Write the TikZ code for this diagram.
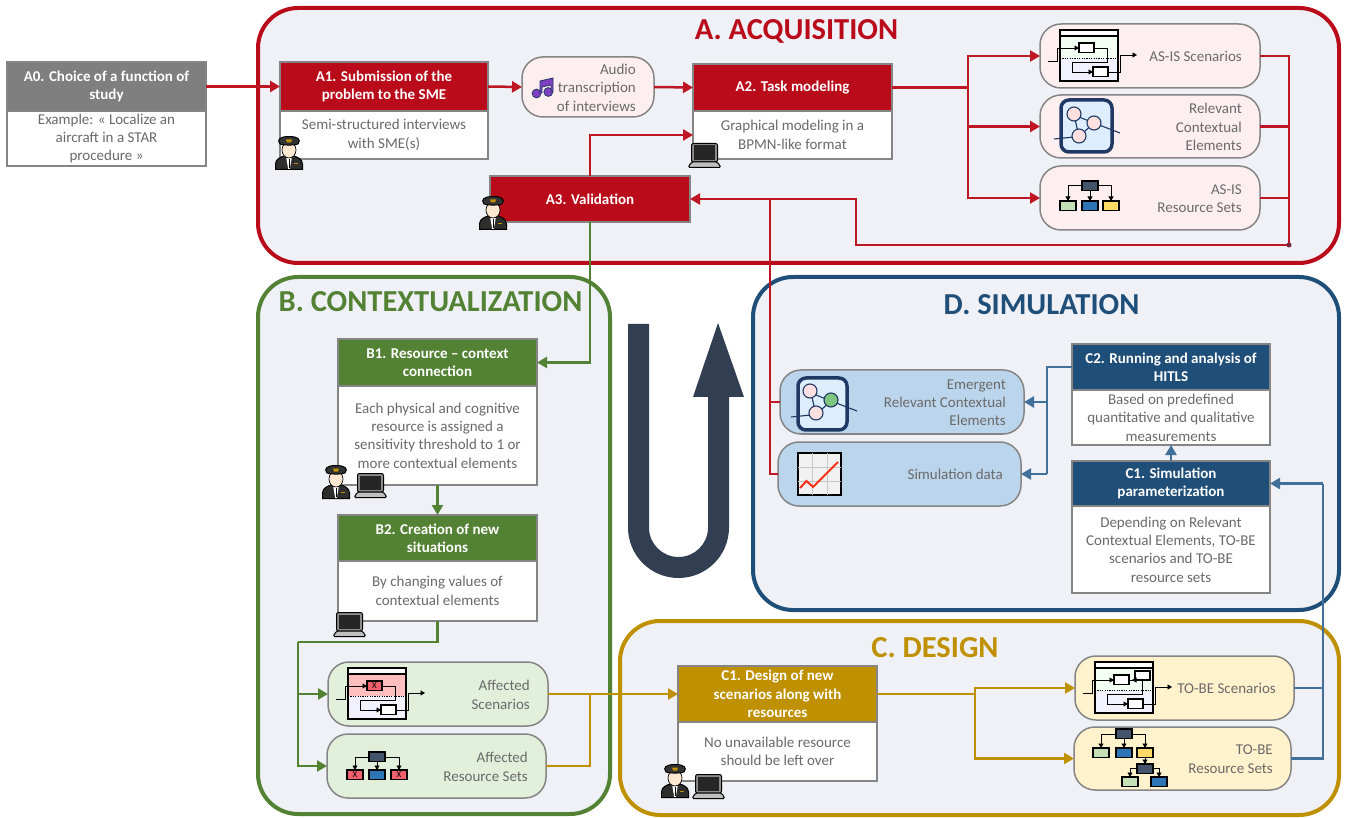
\documentclass[tikz,border=0pt]{standalone}
\usepackage{fontspec}
\setmainfont{Carlito}
\usetikzlibrary{arrows.meta}
\definecolor{cred}{HTML}{B90B1A}
\definecolor{cgreen}{HTML}{548235}
\definecolor{cblue}{HTML}{1F4E79}
\definecolor{cgold}{HTML}{BF9000}
\definecolor{cgrey}{HTML}{7F7F7F}
\definecolor{lnblue}{HTML}{41709A}
\definecolor{lnred}{HTML}{BE1622}
\definecolor{panelbg}{HTML}{EFF1F6}
\definecolor{boxedge}{HTML}{858585}
\definecolor{txt}{HTML}{6A6A6A}
\definecolor{pinkp}{HTML}{FDEFEF}
\definecolor{greenp}{HTML}{E2EFDA}
\definecolor{yellowp}{HTML}{FFF2CC}
\definecolor{bluep}{HTML}{BBD5EC}
\definecolor{slate}{HTML}{323F52}
\definecolor{navy}{HTML}{1F3864}
\definecolor{rnavy}{HTML}{44546A}
\definecolor{rgreen}{HTML}{C5E0B4}
\definecolor{rblue}{HTML}{2E75B6}
\definecolor{ryellow}{HTML}{FFD966}
\definecolor{rpink}{HTML}{F0616D}
\newcommand{\bodyf}{\fontsize{15}{18.4}\selectfont}
\newcommand{\headf}{\fontsize{15}{18.4}\selectfont\bfseries}
\newcommand{\titlef}{\fontsize{30.5}{32}\selectfont\bfseries}
\tikzset{
  panel/.style={draw=#1,line width=4pt,fill=panelbg,rounded corners=40pt,anchor=north west,inner sep=0pt,outer sep=0pt},
  hd/.style={draw=boxedge,line width=1.5pt,fill=#1,text=white,font=\headf,anchor=north west,inner sep=0pt,outer sep=0pt,align=center},
  bd/.style={draw=boxedge,line width=1.5pt,fill=white,text=txt,font=\bodyf,anchor=north west,inner sep=0pt,outer sep=0pt,align=center},
  pill/.style={draw=boxedge,line width=1.5pt,fill=#1,rounded corners=21pt,anchor=north west,inner sep=0pt,outer sep=0pt},
  pilltext/.style={text=txt,font=\bodyf,anchor=east,align=right,inner sep=0pt},
  ttl/.style={text=#1,font=\titlef,inner sep=0pt},
  conn/.style={draw=#1,line width=2.5pt},
  tipped/.style={-{Triangle[length=10pt,width=11pt]}},
  tinytip/.style={-{Triangle[length=4.5pt,width=5pt]},line width=.9pt,draw=black},
  iconbox/.style={draw=black,line width=1.3pt},
  thin/.style={line width=.9pt,draw=black},
}
% pilot: 28 x 34 from top-left
\newcommand{\pilot}[2]{\begin{scope}[shift={(#1,#2)}]
  \fill[draw=black,line width=1pt,fill=black!82] (0.5,33.5) -- (0.5,28) .. controls (0.5,23) and (6,21) .. (9,20) -- (19,20) .. controls (22,21) and (27.5,23) .. (27.5,28) -- (27.5,33.5) -- cycle;
  \fill[white] (11,20.5) -- (17,20.5) -- (14.8,33) -- (13.2,33) -- cycle;
  \draw[black,line width=1pt] (14,23) -- (14,32);
  \fill[cgold] (19,27) rectangle (23,28.2);
  \fill[draw=black,line width=.7pt,fill=orange!18!white] (14,14) ellipse (7pt and 8pt);
  \fill[draw=black,line width=1pt,fill=black!80] (5,8) .. controls (1.5,3.5) and (5,.5) .. (14,.5) .. controls (23,.5) and (26.5,3.5) .. (23,8) .. controls (19,9.5) and (9,9.5) .. (5,8) -- cycle;
  \fill[cgold] (11,3.5) -- (17,3.5) -- (16,6.5) -- (12,6.5) -- cycle;
\end{scope}}
% laptop: 33 x 25 from top-left
\newcommand{\laptop}[2]{\begin{scope}[shift={(#1,#2)}]
  \draw[line width=1pt,draw=black,fill=black!45,rounded corners=2pt] (3.5,.5) rectangle (29.5,19);
  \fill[black!85] (6,2.5) rectangle (27,17);
  \draw[line width=1pt,draw=black,fill=black!25,rounded corners=1.5pt] (3.5,19) -- (29.5,19) -- (33,24.5) -- (0,24.5) -- cycle;
\end{scope}}
% scenario pool icon
\newcommand{\scen}[6]{\begin{scope}[shift={(#1,#2)}]
  \fill[#3] (0,6) rectangle (58,28);
  \fill[#4] (0,28) rectangle (58,51);
  \draw[iconbox,fill=white] (0,0) rectangle (58,6);
  \draw[iconbox] (0,6) rectangle (58,51);
  \draw[thin] (-12,31) -- (-3,31) -- (-3,18) -- (19,18);
  \draw[tinytip] (13,18) -- (19,18);
  \draw[thin] (34,18) -- (47,18) -- (47,32) -- (12,32) -- (12,42) -- (33,42);
  \draw[tinytip] (27,42) -- (33,42);
  \draw[thin] (48,42) -- (60,42) -- (60,25) -- (68,25);
  \draw[tinytip] (66,25) -- (77,25);
  \draw[line width=1.3pt,dash pattern=on 1.2pt off 1.2pt] (0,28.5) -- (58,28.5);
  \draw[iconbox,fill=#5] (19,13) rectangle (34,22.5);
  \draw[iconbox,fill=white] (33,37) rectangle (48,46.5);
  #6
\end{scope}}
% context icon
\newcommand{\ctxicon}[3]{\begin{scope}[shift={(#1,#2)}]
  \draw[draw=navy,line width=3.5pt,fill=blue!50!cyan!13!white,rounded corners=8pt] (0,0) rectangle (#3,52);
  \draw[navy,line width=1.1pt] (-7,39) -- (18,36.5) (33,23) -- (59,33) (13,15) -- (33,23) (13,15) -- (18,36.5) (33,23) -- (18,36.5);
\end{scope}}
\newcommand{\ctxcirc}[3]{\draw[navy,line width=1.1pt,fill=#3] (#1,#2) circle (7pt);}
% resource boxes
\newcommand{\rbox}[3]{\draw[iconbox,fill=#3] ({#1-8},#2) rectangle ({#1+8},{#2+9.5});}
\newcommand{\rlink}[4]{\draw[thin] (#1,#2) -| (#3,{#4-4}); \draw[tinytip] (#3,{#4-5}) -- (#3,#4);}
\newcommand{\rdown}[3]{\draw[thin] (#1,#2) -- (#1,#3); \draw[tinytip] (#1,{#3-5}) -- (#1,#3);}
\begin{document}
\begin{tikzpicture}[x=1pt,y=-1pt]
\useasboundingbox (0,0) rectangle (1345,818);
% panels
\node[panel=cred,minimum width=1081pt,minimum height=255pt] (pa) at (258,8) {};
\node[panel=cgreen,minimum width=352pt,minimum height=537pt] (pb) at (258,277) {};
\node[panel=cblue,minimum width=586pt,minimum height=333pt] (pd) at (753,277) {};
\node[panel=cgold,minimum width=719pt,minimum height=194pt] (pc) at (620,621) {};
\node[ttl=cred] (ta) at (796.5,31.5) {A. ACQUISITION};
\node[ttl=cgreen] (tb) at (430.5,301.5) {B. CONTEXTUALIZATION};
\node[ttl=cblue] (td) at (1041.5,304.5) {D. SIMULATION};
\node[ttl=cgold] (tc) at (935,647.5) {C. DESIGN};
% U-turn arrow
\fill[slate] (628,324) -- (649,324) -- (649,527.5) arc[start angle=180,end angle=360,radius=29.5pt] -- (708,397) -- (693,397) -- (718,323) -- (744,397) -- (729,397) -- (729,527.5) arc[start angle=0,end angle=-180,radius=50.5pt] -- cycle;
% step boxes
\node[hd=cgrey,minimum width=199pt,minimum height=49pt] (a0h) at (7,62) {A0. Choice of a function of\\study};
\node[bd,minimum width=199pt,minimum height=55pt] (a0b) at (7,111) {Example: « Localize an\\aircraft in a STAR\\procedure »};
\node[hd=cred,minimum width=208pt,minimum height=49pt] (a1h) at (280,62) {A1. Submission of the\\problem to the SME};
\node[bd,minimum width=208pt,minimum height=48pt] (a1b) at (280,111) {Semi-structured interviews\\with SME(s)};
\node[hd=cred,minimum width=199pt,minimum height=47pt] (a2h) at (693,64) {A2. Task modeling};
\node[bd,minimum width=199pt,minimum height=48pt] (a2b) at (693,111) {Graphical modeling in a\\BPMN-like format};
\node[hd=cred,minimum width=200pt,minimum height=46pt] (a3h) at (490,176) {A3. Validation};
\node[hd=cgreen,minimum width=199pt,minimum height=47pt] (b1h) at (338,339) {B1. Resource – context\\connection};
\node[bd,minimum width=199pt,minimum height=99pt] (b1b) at (338,386) {Each physical and cognitive\\resource is assigned a\\sensitivity threshold to 1 or\\more contextual elements};
\node[hd=cgreen,minimum width=199pt,minimum height=46pt] (b2h) at (338,515) {B2. Creation of new\\situations};
\node[bd,minimum width=199pt,minimum height=60pt] (b2b) at (338,561) {By changing values of\\contextual elements};
\node[hd=cgold,minimum width=199pt,minimum height=56pt] (d1h) at (678,666) {C1. Design of new\\scenarios along with\\resources};
\node[bd,minimum width=199pt,minimum height=59pt] (d1b) at (678,722) {No unavailable resource\\should be left over};
\node[hd=cblue,minimum width=198pt,minimum height=46pt] (c2h) at (1072,344) {C2. Running and analysis of\\HITLS};
\node[bd,minimum width=198pt,minimum height=55pt] (c2b) at (1072,390) {Based on predefined\\quantitative and qualitative\\measurements};
\node[hd=cblue,minimum width=198pt,minimum height=45pt] (c1h) at (1072,461) {C1. Simulation\\parameterization};
\node[bd,minimum width=198pt,minimum height=87pt] (c1b) at (1072,506) {Depending on Relevant\\Contextual Elements, TO-BE\\scenarios and TO-BE\\resource sets};
% pills
\node[pill=pinkp,minimum width=132pt,minimum height=60pt] (au) at (522,57) {};
\node[pilltext] (aut) at ([xshift=-18pt,yshift=-.7pt]au.east) {Audio\\transcription\\of interviews};
\node[pill=pinkp,minimum width=220pt,minimum height=64pt] (s1) at (1040,24) {};
\node[pilltext] (s1t) at ([xshift=-18pt,yshift=-.7pt]s1.east) {AS-IS Scenarios};
\node[pill=pinkp,minimum width=220pt,minimum height=63pt] (s2) at (1040,95) {};
\node[pilltext] (s2t) at ([xshift=-18pt,yshift=-.7pt]s2.east) {Relevant\\Contextual\\Elements};
\node[pill=pinkp,minimum width=220pt,minimum height=64pt] (s3) at (1040,166) {};
\node[pilltext] (s3t) at ([xshift=-18pt,yshift=-.7pt]s3.east) {AS-IS\\Resource Sets};
\node[pill=greenp,minimum width=220pt,minimum height=64pt] (as) at (328,662) {};
\node[pilltext] (ast) at ([xshift=-18pt,yshift=-.7pt]as.east) {Affected\\Scenarios};
\node[pill=greenp,minimum width=219pt,minimum height=64pt] (ars) at (327,734) {};
\node[pilltext] (arst) at ([xshift=-18pt,yshift=-.7pt]ars.east) {Affected\\Resource Sets};
\node[pill=yellowp,minimum width=219pt,minimum height=64pt] (ts) at (1075,656) {};
\node[pilltext] (tst) at ([xshift=-18pt,yshift=-.7pt]ts.east) {TO-BE Scenarios};
\node[pill=yellowp,minimum width=217pt,minimum height=63pt] (trs) at (1074,727) {};
\node[pilltext] (trst) at ([xshift=-18pt,yshift=-.7pt]trs.east) {TO-BE\\Resource Sets};
\node[pill=bluep,minimum width=244pt,minimum height=64pt] (em) at (780,370) {};
\node[pilltext] (emt) at ([xshift=-18pt,yshift=-.7pt]em.east) {Emergent\\Relevant Contextual\\Elements};
\node[pill=bluep,minimum width=243pt,minimum height=64pt] (sd) at (778,442) {};
\node[pilltext] (sdt) at ([xshift=-18pt,yshift=-.7pt]sd.east) {Simulation data};
% junctions
\coordinate (j1) at (968,87.5);
\coordinate (j2) at (1289,245);
\coordinate (j3) at (856,245);
\coordinate (j4) at (770,199);
\coordinate (j6) at (298,642);
\coordinate (j7) at (590,694);
\coordinate (j8) at (975,694);
\coordinate (j9) at (1323,483.5);
\coordinate (j10) at (1047,474);
\coordinate (j11) at (1047,402);
% red connectors
\draw[conn=lnred,tipped] (a0h.east) -- (a1h.west);
\draw[conn=lnred,tipped] (a1h.east) -- (au.west);
\draw[conn=lnred,tipped] (au.east) -- (a2h.west);
\draw[conn=lnred] (a2h.east) -- (j1);
\draw[conn=lnred,tipped] (j1) |- (s1.west);
\draw[conn=lnred,tipped] (j1) |- (s2.west);
\draw[conn=lnred,tipped] (j1) |- (s3.west);
\draw[conn=lnred] (s1.east) -| (j2);
\draw[conn=lnred] (s2.east) -| (j2);
\draw[conn=lnred] (s3.east) -| (j2);
\draw[conn=lnred,tipped] (j2) -- (j3) |- (a3h.east);
\fill[lnred!55!navy] (j2) circle (2.5pt);
\draw[conn=lnred,tipped] (a3h.north) |- (a2b.west);
\draw[conn=lnred] (j4) |- (em.west);
\draw[conn=lnred] (j4) |- (sd.west);
% green connectors
\draw[conn=cgreen,tipped] (a3h.south) |- (b1h.east);
\draw[conn=cgreen,tipped] (b1b.south) -- (b2h.north);
\draw[conn=cgreen] (b2b.south) |- (j6);
\draw[conn=cgreen,tipped] (j6) |- (as.west);
\draw[conn=cgreen,tipped] (j6) |- (ars.west);
% gold connectors
\draw[conn=cgold,tipped] (as.east) -- (d1h.west);
\draw[conn=cgold] (ars.east) -| (j7);
\draw[conn=cgold] (d1h.east) -- (j8);
\draw[conn=cgold,tipped] (j8) |- (ts.west);
\draw[conn=cgold,tipped] (j8) |- (trs.west);
% blue connectors
\draw[conn=lnblue] (ts.east) -| (j9);
\draw[conn=lnblue] (trs.east) -| (j9);
\draw[conn=lnblue,tipped] (j9) -- (c1h.east);
\draw[conn=lnblue,tipped] (c1h.north) -- (c2b.south);
\draw[conn=lnblue] (c2h.west) -| (j10);
\draw[conn=lnblue,tipped] (j10) -- (sd.east);
\draw[conn=lnblue,tipped] (j11) -- (em.east);
% people and laptops
\pilot{275}{136}\pilot{479}{196}\pilot{322}{465}\pilot{661}{764}
\laptop{688}{143}\laptop{354}{473}\laptop{333}{612}\laptop{692}{774}
% music note
\draw[line width=.8pt,draw=navy,fill=violet!65!blue!75!white] (536.5,93.5) ellipse (4.4pt and 4.4pt) (548.3,92) ellipse (4.4pt and 4.4pt);
\draw[line width=.8pt,draw=navy,fill=violet!65!blue!75!white] (540,93) -- (540,81) -- (553,78) -- (553,92) -- (551,92) -- (551,85) -- (542,87) -- (542,93) -- cycle;
% scenario icons
\scen{1060}{30}{green!5!white}{blue!5!white}{white}{}
\scen{348}{668}{red!25!white}{blue!5!white}{rpink}{\node[font=\fontsize{9}{9}\selectfont,text=black,inner sep=0pt] (xs) at (26.5,18) {X};}
\scen{1095}{662}{green!5!white}{blue!5!white}{white}{\draw[iconbox,fill=white] (40,9) rectangle (55,18); \draw[tinytip] (47,18) -- (37,18);}
% context icons
\ctxicon{1061}{100}{51}
\ctxcirc{1074}{114}{red!12!white}\ctxcirc{1094}{123}{red!12!white}\ctxcirc{1079}{136}{red!12!white}
\ctxicon{798}{378}{49}
\ctxcirc{810}{391}{red!12!white}\ctxcirc{831}{400}{green!55!black!50!white}\ctxcirc{816}{413}{red!12!white}
% chart
\draw[iconbox,line width=2pt,fill=black!5] (798,453) rectangle (841,495);
\draw[black!22,line width=.8pt] (812,453) -- (812,495) (827,453) -- (827,495) (798,467) -- (841,467) (798,481) -- (841,481);
\draw[line width=2pt,draw=orange!20!red!90!white] (800,488) -- (806.5,481) -- (813,487) -- (838,462);
% resource trees
\rlink{1083}{185.5}{1068}{201}\rlink{1097}{185.5}{1111}{201}\rdown{1090}{190}{201}
\rbox{1090}{181}{rnavy}\rbox{1068}{201}{rgreen}\rbox{1090}{201}{rblue}\rbox{1111}{201}{ryellow}
\rlink{369}{757}{355}{770}\rlink{385}{757}{399}{770}\rdown{377}{762}{770}
\rbox{377}{752}{rnavy}\rbox{355}{770}{rpink}\rbox{377}{770}{rblue}\rbox{399}{770}{rpink}
\node[font=\fontsize{9}{9}\selectfont,text=black,inner sep=0pt] (xr1) at (355,775) {X};
\node[font=\fontsize{9}{9}\selectfont,text=black,inner sep=0pt] (xr2) at (399,775) {X};
\rlink{1116}{734}{1101}{748}\rlink{1132}{734}{1145}{748}\rdown{1124}{739}{748}
\rdown{1145}{757}{764}\rlink{1138}{768.5}{1130}{777}\rlink{1153}{768.5}{1159}{777}
\rbox{1124}{729}{rnavy}\rbox{1101}{748}{rgreen}\rbox{1124}{748}{rblue}\rbox{1145}{748}{ryellow}
\rbox{1145}{764}{rnavy}\rbox{1130}{777}{rgreen}\rbox{1159}{777}{rblue}
\end{tikzpicture}
\end{document}
